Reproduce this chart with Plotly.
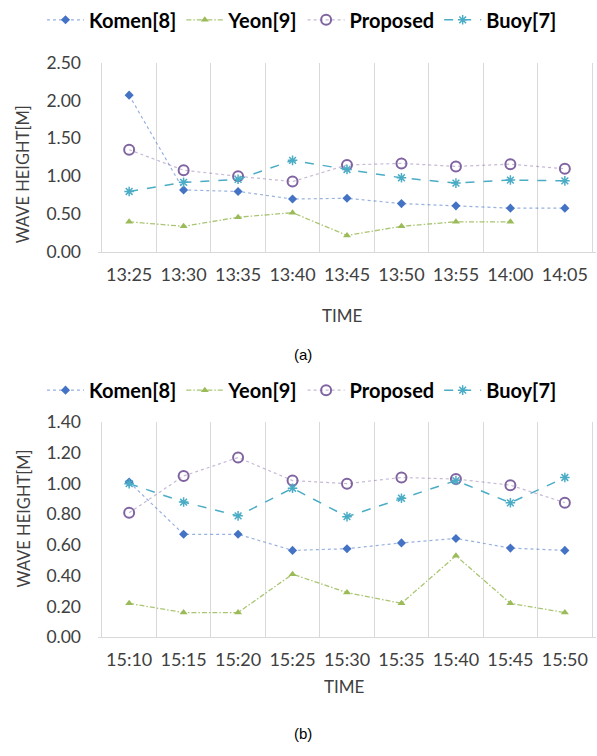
import plotly.graph_objects as go

# ---- data ----
times_a = ["13:25", "13:30", "13:35", "13:40", "13:45", "13:50", "13:55", "14:00", "14:05"]
komen_a = [2.07, 0.82, 0.80, 0.70, 0.71, 0.64, 0.61, 0.58, 0.58]
yeon_a = [0.40, 0.34, 0.46, 0.52, 0.22, 0.34, 0.40, 0.40, None]
proposed_a = [1.35, 1.08, 1.00, 0.93, 1.15, 1.17, 1.13, 1.16, 1.10]
buoy_a = [0.80, 0.92, 0.96, 1.21, 1.09, 0.98, 0.91, 0.95, 0.94]

times_b = ["15:10", "15:15", "15:20", "15:25", "15:30", "15:35", "15:40", "15:45", "15:50"]
komen_b = [1.01, 0.67, 0.67, 0.565, 0.576, 0.614, 0.643, 0.58, 0.565]
yeon_b = [0.22, 0.16, 0.16, 0.41, 0.29, 0.22, 0.53, 0.22, 0.16]
proposed_b = [0.81, 1.05, 1.17, 1.02, 1.00, 1.04, 1.03, 0.99, 0.876]
buoy_b = [1.00, 0.88, 0.79, 0.97, 0.785, 0.905, 1.02, 0.875, 1.04]

series_names = ["Komen[8]", "Yeon[9]", "Proposed", "Buoy[7]"]

W, H = 597, 756
FONT = "Lato"

styles = [
    dict(line=dict(color="rgba(68,114,196,0.55)", width=1.2, dash="dot"),
         marker=dict(symbol="diamond", size=7, color="#4472C4")),
    dict(line=dict(color="rgba(155,187,89,0.85)", width=1.3, dash="5px,2px,1.5px,2px"),
         marker=dict(symbol="triangle-up", size=7, color="#9BBB59")),
    dict(line=dict(color="rgba(128,100,162,0.45)", width=1.2, dash="dot"),
         marker=dict(symbol="circle-open", size=10, color="#8064A2", line=dict(width=2, color="#8064A2"))),
    dict(line=dict(color="#4BACC6", width=1.5, dash="dash"),
         marker=dict(symbol="asterisk-open", size=8, color="#4BACC6", line=dict(width=1.5, color="#4BACC6"))),
]

fig = go.Figure()

for name, vals, st in zip(series_names, [komen_a, yeon_a, proposed_a, buoy_a], styles):
    fig.add_trace(go.Scatter(x=times_a, y=vals, name=name, mode="lines+markers",
                             xaxis="x", yaxis="y", legend="legend", **st))
for name, vals, st in zip(series_names, [komen_b, yeon_b, proposed_b, buoy_b], styles):
    fig.add_trace(go.Scatter(x=times_b, y=vals, name=name, mode="lines+markers",
                             xaxis="x2", yaxis="y2", legend="legend2", **st))

def py(px):
    return 1 - px / H

def pxx(px):
    return px / W

xdom = [pxx(98), pxx(596)]
common_x = dict(type="category", tickson="boundaries", showgrid=True, gridcolor="#D9D9D9",
                gridwidth=1, showline=True, linecolor="#D9D9D9", linewidth=1, ticks="",
                tickangle=0,
                tickfont=dict(family=FONT, size=18, color="#404040"), domain=xdom,
                ticklabelstandoff=6)
common_y = dict(showgrid=False, zeroline=False, showline=False, ticks="", tickformat=".2f",
                tickfont=dict(family=FONT, size=17.5, color="#404040"), ticklabelstandoff=16)

legend_common = dict(orientation="h", xanchor="center",
                     font=dict(family=FONT, size=20, color="#000000", weight="bold"),
                     bgcolor="rgba(0,0,0,0)", itemwidth=37, tracegroupgap=0)

fig.update_layout(
    width=W, height=H,
    margin=dict(l=0, r=0, t=0, b=0),
    paper_bgcolor="white", plot_bgcolor="white",
    showlegend=True,
    xaxis=dict(anchor="y", **common_x),
    yaxis=dict(anchor="x", domain=[py(248), py(53)], range=[0, 2.5], dtick=0.5, **common_y),
    xaxis2=dict(anchor="y2", **common_x),
    yaxis2=dict(anchor="x2", domain=[py(644), py(423)], range=[0, 1.4], dtick=0.2, **common_y),
    legend=dict(x=pxx(302), y=py(-11), yanchor="top", **legend_common),
    legend2=dict(x=pxx(302), y=py(390), yanchor="middle", **legend_common),
)

ann_font = dict(family=FONT, size=17, color="#404040")
annotations = [
    dict(text="TIME", x=pxx(342), y=py(313), xref="paper", yref="paper", showarrow=False,
         xanchor="center", yanchor="middle", font=ann_font),
    dict(text="TIME", x=pxx(345), y=py(695), xref="paper", yref="paper", showarrow=False,
         xanchor="center", yanchor="middle", font=ann_font),
    dict(text="WAVE HEIGHT[M]", x=pxx(23), y=py(168), xref="paper", yref="paper", showarrow=False,
         xanchor="center", yanchor="middle", textangle=-90, font=dict(family=FONT, size=16.5, color="#404040")),
    dict(text="WAVE HEIGHT[M]", x=pxx(23), y=py(522), xref="paper", yref="paper", showarrow=False,
         xanchor="center", yanchor="middle", textangle=-90, font=dict(family=FONT, size=16.5, color="#404040")),
    dict(text="(a)", x=pxx(303), y=py(353), xref="paper", yref="paper", showarrow=False,
         xanchor="center", yanchor="middle", font=dict(family="Liberation Sans", size=15, color="#000000")),
    dict(text="(b)", x=pxx(303), y=py(743), xref="paper", yref="paper", showarrow=False,
         xanchor="center", yanchor="middle", font=dict(family="Liberation Sans", size=15, color="#000000")),
]
fig.update_layout(annotations=annotations)

fig.write_html("out.html")
